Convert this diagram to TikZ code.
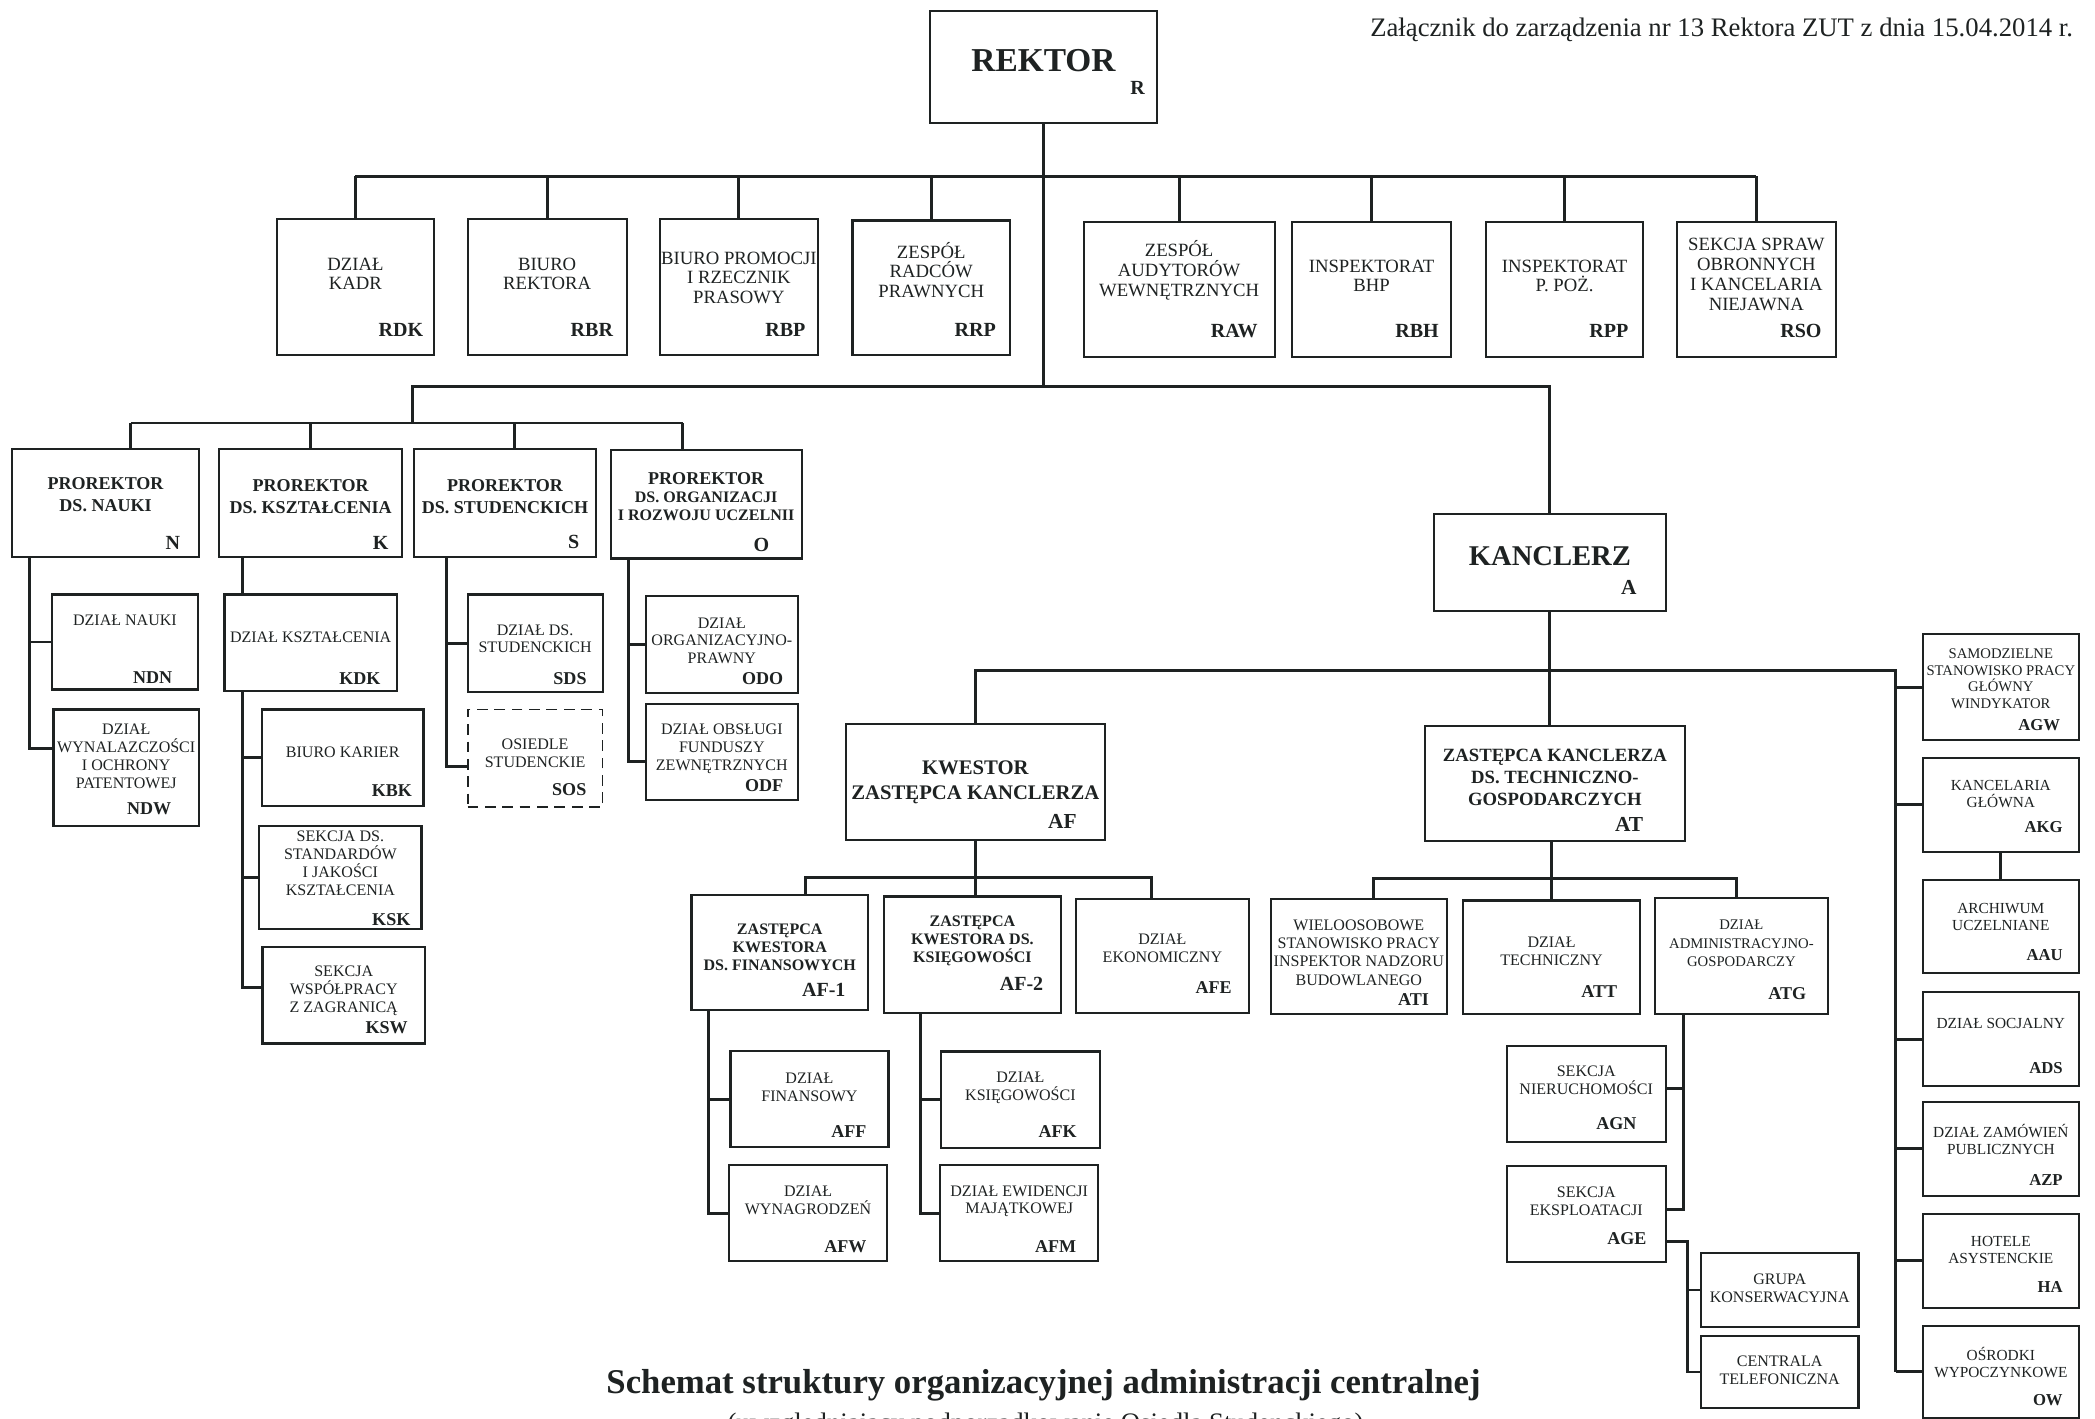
\documentclass[tikz,border=0pt]{standalone}
\usepackage{fontspec}
\setmainfont{Liberation Serif}
\usetikzlibrary{fit}

\definecolor{ink}{HTML}{1E2222}

\tikzset{
  box/.style={draw=ink, line width=1.6pt, inner sep=0pt},
  txt/.style={align=center, inner sep=0pt, text=ink, font=\fontsize{12}{13.3}\selectfont},
  code/.style={anchor=east, inner sep=0pt, text=ink, font=\bfseries\fontsize{13.5}{14}\selectfont},
  link/.style={draw=ink, line width=2.2pt},
}

% box from corner to corner, text at height #5, code at #7
\newcommand{\orgbox}[8][]{%
  \node[box, fit={(#3) (#4)}] (#2) {};
  \node[txt, #1] (#2-t) at (#2.center |- 0,#5) {#6};
  \if\relax\detokenize{#8}\relax\else
    \node[code] (#2-c) at (#7) {#8};
  \fi
}

\begin{document}
\begin{tikzpicture}[x=1pt, y=-1pt]
\fill[white] (0,0) rectangle (1568,1062);
\useasboundingbox (0,0) rectangle (1568,1062);

\node[anchor=base east, text=ink, font=\fontsize{20}{24}\selectfont] (head) at (1555,27)
  {Załącznik do zarządzenia nr 13 Rektora ZUT z dnia 15.04.2014 r.};

% rektor
\begin{scope}[code/.append style={font=\bfseries\fontsize{15}{16}\selectfont}]
\orgbox[font=\bfseries\fontsize{25}{28}\selectfont]{R}{696,8}{866,92}{45}{REKTOR}{857,65.5}{R}
\end{scope}

% jednostki rektora
\begin{scope}[txt/.append style={font=\fontsize{14}{14.8}\selectfont},
              code/.append style={font=\bfseries\fontsize{15}{16}\selectfont}]
\orgbox{RDK}{207,164}{325,266}{205}{DZIAŁ\\KADR}{317,247}{RDK}
\orgbox{RBR}{350,164}{469,266}{205}{BIURO\\REKTORA}{459,247}{RBR}
\orgbox{RBP}{494,164}{612,266}{208}{BIURO PROMOCJI\\I RZECZNIK\\PRASOWY}{603,247}{RBP}
\orgbox{RRP}{638,165}{756,266}{202}{ZESPÓŁ\\RADCÓW\\PRAWNYCH}{745.5,247}{RRP}
\orgbox{RAW}{811,166}{954,267}{202.5}{ZESPÓŁ\\AUDYTORÓW\\WEWNĘTRZNYCH}{941.5,248}{RAW}
\orgbox{RBH}{967,166}{1086,267}{206.5}{INSPEKTORAT\\BHP}{1077,248}{RBH}
\orgbox{RPP}{1112,166}{1230,267}{206.5}{INSPEKTORAT\\P. POŻ.}{1219,248}{RPP}
\orgbox{RSO}{1255,166}{1374,267}{205.3}{SEKCJA SPRAW\\OBRONNYCH\\I KANCELARIA\\NIEJAWNA}{1363.5,248}{RSO}
\end{scope}

% prorektorzy
\begin{scope}[txt/.append style={font=\bfseries\fontsize{13.5}{16.5}\selectfont},
              code/.append style={font=\bfseries\fontsize{15}{16}\selectfont}]
\orgbox{N}{9,336}{149,417}{370.5}{PROREKTOR\\DS. NAUKI}{135,406}{N}
\orgbox{K}{164,336}{301,417}{371.5}{PROREKTOR\\DS. KSZTAŁCENIA}{291,406}{K}
\orgbox{S}{310,336}{446,417}{371.5}{PROREKTOR\\DS. STUDENCKICH}{433.7,406}{S}
\orgbox[font=\bfseries\fontsize{12}{13.5}\selectfont]{O}{457,337}{600,418}{372}%
  {{\fontsize{13.5}{14}\selectfont PROREKTOR}\\DS. ORGANIZACJI\\I ROZWOJU UCZELNII}{576,408}{O}
\end{scope}

% dzialy prorektorow
\orgbox{NDN}{39,445}{148,516}{464}{DZIAŁ NAUKI}{129,507.5}{NDN}
\orgbox{NDW}{40,531}{149,618}{566}{DZIAŁ\\WYNALAZCZOŚCI\\I OCHRONY\\PATENTOWEJ}{128.4,605.5}{NDW}
\orgbox{KDK}{168,445}{297,517}{476.6}{DZIAŁ KSZTAŁCENIA}{285,507.6}{KDK}
\orgbox{KBK}{196,531}{317,603}{562.7}{BIURO KARIER}{308.5,592}{KBK}
\orgbox{KSK}{194,618}{315.5,695}{646}{SEKCJA DS.\\STANDARDÓW\\I JAKOŚCI\\KSZTAŁCENIA}{307.3,688}{KSK}
\orgbox{KSW}{196.5,709}{318,781}{741.5}{SEKCJA\\WSPÓŁPRACY\\Z ZAGRANICĄ}{305.3,769}{KSW}
\orgbox{SDS}{350,445}{451,518}{478}{DZIAŁ DS.\\STUDENCKICH}{439.2,507.6}{SDS}
\begin{scope}[box/.append style={dash pattern=on 8pt off 5pt, line width=1.3pt}]
\orgbox{SOS}{350,531}{451,604}{564}{OSIEDLE\\STUDENCKIE}{439,591}{SOS}
\end{scope}
\orgbox{ODO}{483.5,446}{597,518.5}{479.5}{DZIAŁ\\ORGANIZACYJNO-\\PRAWNY}{586.4,508}{ODO}
\orgbox{ODF}{483.5,527}{597,599}{560.5}{DZIAŁ OBSŁUGI\\FUNDUSZY\\ZEWNĘTRZNYCH}{586.4,588}{ODF}

% kanclerz i zastepcy
\begin{scope}[code/.append style={font=\bfseries\fontsize{16}{17}\selectfont}]
\orgbox[font=\bfseries\fontsize{21.4}{24}\selectfont]{A}{1073,385}{1247,457}{416}{KANCLERZ}{1225,440}{A}
\orgbox[font=\bfseries\fontsize{15.5}{19}\selectfont]{AF}{633,542}{827,629}{585.5}%
  {KWESTOR\\ZASTĘPCA KANCLERZA}{806,615}{AF}
\orgbox[font=\bfseries\fontsize{14}{16.5}\selectfont]{AT}{1066.5,543.5}{1261,629.5}{582}%
  {ZASTĘPCA KANCLERZA\\DS. TECHNICZNO-\\GOSPODARCZYCH}{1230,617}{AT}
\end{scope}

\begin{scope}[txt/.append style={font=\bfseries\fontsize{12}{13.5}\selectfont},
              code/.append style={font=\bfseries\fontsize{15}{16}\selectfont}]
\orgbox{AF1}{517.5,670}{649.7,756}{709}{ZASTĘPCA\\KWESTORA\\DS. FINANSOWYCH}{633,741}{AF-1}
\orgbox{AF2}{661.6,671}{794,758}{704}{ZASTĘPCA\\KWESTORA DS.\\KSIĘGOWOŚCI}{781,736.5}{AF-2}
\end{scope}
\orgbox{AFE}{805,673}{935,758}{710}{DZIAŁ\\EKONOMICZNY}{922,739}{AFE}
\orgbox[font=\fontsize{12}{13.7}\selectfont]{ATI}{951,673}{1083,759}{713}%
  {WIELOOSOBOWE\\STANOWISKO PRACY\\INSPEKTOR NADZORU\\BUDOWLANEGO}{1069.6,748}{ATI}
\orgbox{ATT}{1095,674}{1227.5,759}{712}{DZIAŁ\\TECHNICZNY}{1210.6,742}{ATT}
\orgbox[font=\fontsize{11}{14}\selectfont]{ATG}{1238.7,672}{1368,759}{706}%
  {DZIAŁ\\ADMINISTRACYJNO-\\GOSPODARCZY}{1352,744}{ATG}

% dzialy kwestora
\orgbox{AFF}{546.7,786.6}{665,858.6}{813.7}{DZIAŁ\\FINANSOWY}{648.6,847}{AFF}
\orgbox{AFW}{545.6,872}{664,944}{898.5}{DZIAŁ\\WYNAGRODZEŃ}{648.6,933}{AFW}
\orgbox{AFK}{704.5,787}{823,859}{814}{DZIAŁ\\KSIĘGOWOŚCI}{806,847}{AFK}
\orgbox{AFM}{703.6,872}{822,944}{899}{DZIAŁ EWIDENCJI\\MAJĄTKOWEJ}{805.6,933}{AFM}

% sekcje ATG
\orgbox{AGN}{1127.7,783}{1246.7,855}{808.7}{SEKCJA\\NIERUCHOMOŚCI}{1225,841.3}{AGN}
\orgbox{AGE}{1127.7,872.5}{1246.7,944.8}{899}{SEKCJA\\EKSPLOATACJI}{1232.5,927}{AGE}
\orgbox{GRK}{1273,938}{1391,993}{964}{GRUPA\\KONSERWACYJNA}{}{}
\orgbox{CTL}{1273,999.7}{1391,1054}{1025.7}{CENTRALA\\TELEFONICZNA}{}{}

% kolumna kanclerza
\begin{scope}[txt/.append style={font=\fontsize{11.5}{12.8}\selectfont},
              code/.append style={font=\bfseries\fontsize{12.5}{13}\selectfont}]
\orgbox[font=\fontsize{11}{12.6}\selectfont]{AGW}{1439,474.7}{1556,554}{508}%
  {SAMODZIELNE\\STANOWISKO PRACY\\GŁÓWNY\\WINDYKATOR}{1542,543}{AGW}
\orgbox{AKG}{1439,567}{1556,637.6}{594}{KANCELARIA\\GŁÓWNA}{1544,619}{AKG}
\orgbox{AAU}{1439,658.7}{1556,728}{686}{ARCHIWUM\\UCZELNIANE}{1544,714.7}{AAU}
\orgbox{ADS}{1439,742.5}{1556,813}{766}{DZIAŁ SOCJALNY}{1544,799.7}{ADS}
\orgbox{AZP}{1439,824.5}{1556,895}{852.5}{DZIAŁ ZAMÓWIEŃ\\PUBLICZNYCH}{1544,883}{AZP}
\orgbox{HA}{1439,908.5}{1556,979}{935.4}{HOTELE\\ASYSTENCKIE}{1544,963}{HA}
\orgbox{OW}{1439,992.5}{1556,1061}{1019.5}{OŚRODKI\\WYPOCZYNKOWE}{1544,1047.7}{OW}
\end{scope}

% polaczenia rektora
\coordinate (b1) at (R.south |- 0,132);
\coordinate (b2) at (R.south |- 0,289.4);
\coordinate (b2l) at (309,289.4);
\coordinate (pb) at (309,316.6);
\draw[link] (R.south) -- (b2);
\draw[link] (b1 -| RDK.north) -- (b1 -| RSO.north);
\foreach \n in {RDK,RBR,RBP,RRP,RAW,RBH,RPP,RSO}
  \draw[link] (b1 -| \n.north) -- (\n.north);
\draw[link] (b2l |- pb) -- (b2l) -- (b2 -| A.north) -- (A.north);

% prorektorzy
\coordinate (dN) at (98,316.6);
\coordinate (dS) at (385,316.6);
\coordinate (dO) at (511,316.6);
\draw[link] (dN) -- (dO);
\draw[link] (dN) -- (dN |- N.north);
\draw[link] (pb -| K.north) -- (K.north);
\draw[link] (dS) -- (dS |- S.north);
\draw[link] (dO) -- (dO |- O.north);

\coordinate (vN) at ([xshift=13.7pt]N.south west);
\draw[link] (vN) |- (NDN.west);
\draw[link] (vN) |- ([yshift=14.5pt]NDW.west);
\coordinate (vK) at ([xshift=18pt]K.south west);
\draw[link] (vK) -- (vK |- KDK.north);
\draw[link] (vK |- KDK.south) |- (KBK.west);
\draw[link] (vK |- KDK.south) |- (KSK.west);
\draw[link] (vK |- KDK.south) |- ([yshift=6pt]KSW.west);
\coordinate (vS) at ([xshift=25pt]S.south west);
\draw[link] (vS) |- (SDS.west);
\draw[link] (vS) |- ([yshift=-6.5pt]SOS.west);
\coordinate (vO) at ([xshift=14pt]O.south west);
\draw[link] (vO) |- (ODO.west);
\draw[link] (vO) |- ([yshift=-7pt]ODF.west);

% kanclerz
\coordinate (rc) at (1419,501.5);
\draw[link] (A.south) -- (A.south |- AT.north);
\draw[link] (AF.north) |- (rc) -- (rc |- OW.west);
\foreach \n in {AGW,AKG,ADS,AZP,HA,OW}
  \draw[link] (rc |- \n.west) -- (\n.west);
\draw[link] (AKG.south) -- (AAU.north);

% kwestor
\coordinate (dF1) at (603,656.5);
\coordinate (dFE) at (862,656.5);
\draw[link] (AF.south) -- (AF.south |- AF2.north);
\draw[link] (dF1 |- AF1.north) -- (dF1) -- (dFE) -- (dFE |- AFE.north);
\coordinate (vF1) at ([xshift=13.5pt]AF1.south west);
\draw[link] (vF1) |- (AFF.west);
\draw[link] (vF1) |- (AFW.west);
\coordinate (vF2) at ([xshift=28pt]AF2.south west);
\draw[link] (vF2) |- (AFK.west);
\draw[link] (vF2) |- (AFM.west);

% zastepca ds. technicznych
\coordinate (dTI) at (1028,657.5);
\coordinate (dTG) at (1300,657.5);
\draw[link] (ATT.north |- AT.south) -- (ATT.north);
\draw[link] (dTI |- ATI.north) -- (dTI) -- (dTG) -- (dTG |- ATG.north);
\coordinate (vG) at ([xshift=22.3pt]ATG.south west);
\draw[link] (vG) |- ([yshift=4pt]AGN.east);
\draw[link] (vG) |- ([yshift=3.6pt]AGE.east);
\coordinate (vE) at ([yshift=-20.7pt]AGE.east);
\coordinate (vE2) at ([xshift=15.7pt]vE);
\draw[link] (vE) -- (vE2) |- (CTL.west);
\draw[link] (vE2) |- (GRK.west);

% tytul
\node[anchor=base, text=ink, font=\bfseries\fontsize{26}{30}\selectfont] (title) at (781,1042.6)
  {Schemat struktury organizacyjnej administracji centralnej};
\node[anchor=base, text=ink, font=\fontsize{20}{24}\selectfont] (subtitle) at (782.5,1071.6)
  {(uwzględniający podporządkowanie Osiedla Studenckiego)};
\end{tikzpicture}
\end{document}
